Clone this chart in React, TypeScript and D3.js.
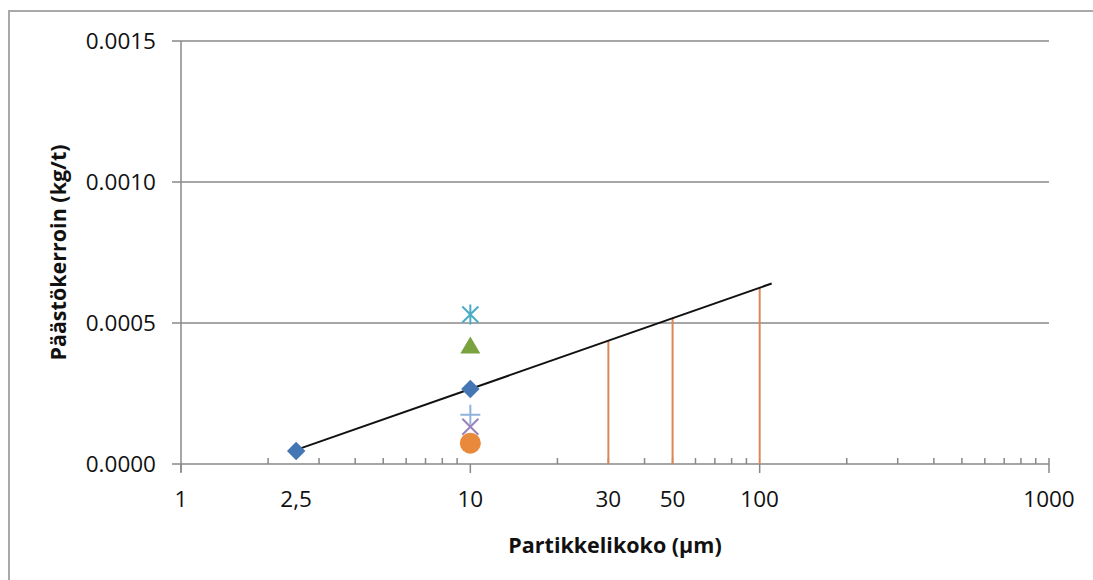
import React, { useEffect, useRef } from "react";
import * as d3 from "d3";

// x ticks (particle size, µm) and their printed labels
const xTickValues = [1, 2.5, 10, 30, 50, 100, 1000];
const xTickLabels = ["1", "2,5", "10", "30", "50", "100", "1000"];
const yTickValues = [0, 0.0005, 0.001, 0.0015];

// measured emission factors (kg/t)
const diamondX = [2.5, 10];
const diamondY = [0.000046, 0.000266];
const asteriskX = [10];
const asteriskY = [0.00053];
const triangleX = [10];
const triangleY = [0.00042];
const plusX = [10];
const plusY = [0.000175];
const crossX = [10];
const crossY = [0.000132];
const circleX = [10];
const circleY = [0.000074];

// trend line endpoints and read-off values
const trendX = [2.5, 110];
const trendY = [0.00005, 0.00064];
const dropX = [30, 50, 100];
const dropY = [0.000437, 0.000517, 0.000625];

const W = 1093;
const H = 580;
const font = "'Open Sans', 'Liberation Sans', sans-serif";

export default function App() {
  const ref = useRef<SVGSVGElement>(null);

  useEffect(() => {
    document.body.style.margin = "0";
    const svg = d3.select(ref.current);
    svg.selectAll("*").remove();

    const dims = { left: 181, right: 1049, top: 41, bottom: 464 };

    const x = d3.scaleLog().domain([1, 1000]).range([dims.left, dims.right]);
    const y = d3.scaleLinear().domain([0, 0.0015]).range([dims.bottom, dims.top]);

    svg.append("rect").attr("width", W).attr("height", H).attr("fill", "#fff");

    // outer chart border
    svg.append("rect")
      .attr("x", 9).attr("y", 11)
      .attr("width", W + 20).attr("height", H + 20)
      .attr("fill", "none").attr("stroke", "#a9a9a9").attr("stroke-width", 2);

    // gridlines
    svg.append("g").selectAll("line")
      .data(yTickValues.filter(d => d > 0))
      .join("line")
      .attr("x1", dims.left).attr("x2", dims.right)
      .attr("y1", d => y(d)).attr("y2", d => y(d))
      .attr("stroke", "#888").attr("stroke-width", 1.5);

    // y axis
    const yAxis = svg.append("g");
    yAxis.append("line")
      .attr("x1", dims.left).attr("x2", dims.left)
      .attr("y1", dims.top).attr("y2", dims.bottom + 8)
      .attr("stroke", "#888").attr("stroke-width", 1.5);
    yAxis.selectAll("line.t")
      .data(yTickValues).join("line").attr("class", "t")
      .attr("x1", dims.left - 9).attr("x2", dims.left)
      .attr("y1", d => y(d)).attr("y2", d => y(d))
      .attr("stroke", "#888").attr("stroke-width", 1.5);
    yAxis.selectAll("text")
      .data(yTickValues).join("text")
      .attr("x", 156).attr("y", d => y(d)).attr("dy", "0.36em")
      .attr("text-anchor", "end")
      .attr("font-family", font).attr("font-size", 22.5).attr("fill", "#111")
      .text(d => d3.format(".4f")(d));

    // x axis
    const xAxis = svg.append("g");
    xAxis.append("line")
      .attr("x1", dims.left).attr("x2", dims.right)
      .attr("y1", dims.bottom).attr("y2", dims.bottom)
      .attr("stroke", "#888").attr("stroke-width", 1.5);
    const majors = [1, 10, 100, 1000];
    xAxis.selectAll("line.maj")
      .data(majors).join("line").attr("class", "maj")
      .attr("x1", d => x(d)).attr("x2", d => x(d))
      .attr("y1", d => (d === 1000 ? dims.bottom - 6 : dims.bottom))
      .attr("y2", dims.bottom + 9)
      .attr("stroke", "#888").attr("stroke-width", 1.5);
    const minors = x.ticks().filter(d => !majors.includes(d));
    xAxis.selectAll("line.min")
      .data(minors).join("line").attr("class", "min")
      .attr("x1", d => x(d)).attr("x2", d => x(d))
      .attr("y1", dims.bottom - 6).attr("y2", dims.bottom)
      .attr("stroke", "#888").attr("stroke-width", 1.5);
    xAxis.selectAll("text")
      .data(xTickValues).join("text")
      .attr("x", d => x(d)).attr("y", 507)
      .attr("text-anchor", "middle")
      .attr("font-family", font).attr("font-size", 22.5).attr("fill", "#111")
      .text((d, i) => xTickLabels[i]);

    // axis titles
    svg.append("text")
      .attr("x", (dims.left + dims.right) / 2).attr("y", 553)
      .attr("text-anchor", "middle")
      .attr("font-family", font).attr("font-size", 21.5).attr("font-weight", "bold")
      .attr("fill", "#111")
      .text("Partikkelikoko (µm)");
    svg.append("text")
      .attr("transform", `translate(66, ${(dims.top + dims.bottom) / 2}) rotate(-90)`)
      .attr("text-anchor", "middle")
      .attr("font-family", font).attr("font-size", 21.5).attr("font-weight", "bold")
      .attr("fill", "#111")
      .text("Päästökerroin (kg/t)");

    // drop lines
    svg.append("g").selectAll("line")
      .data(dropX).join("line")
      .attr("x1", d => x(d)).attr("x2", d => x(d))
      .attr("y1", dims.bottom).attr("y2", (d, i) => y(dropY[i]))
      .attr("stroke", "#d9875a").attr("stroke-width", 2);

    // trend line
    const line = d3.line<number>()
      .x(d => x(d))
      .y((d, i) => y(trendY[i]));
    svg.append("path")
      .attr("d", line(trendX))
      .attr("fill", "none").attr("stroke", "#111").attr("stroke-width", 2);

    const pts = (xs: number[], ys: number[]) => xs.map((v, i) => [x(v), y(ys[i])]);

    // diamonds
    svg.append("g").selectAll("path")
      .data(pts(diamondX, diamondY)).join("path")
      .attr("transform", d => `translate(${d[0]},${d[1]}) rotate(45)`)
      .attr("d", d3.symbol(d3.symbolSquare, 170)())
      .attr("fill", "#4576b4");

    // triangle
    svg.append("g").selectAll("path")
      .data(pts(triangleX, triangleY)).join("path")
      .attr("d", d => `M${d[0]},${d[1] - 9}L${d[0] + 10},${d[1] + 8}L${d[0] - 10},${d[1] + 8}Z`)
      .attr("fill", "#7aa23e");

    // asterisk
    svg.append("g").selectAll("path")
      .data(pts(asteriskX, asteriskY)).join("path")
      .attr("d", d => `M${d[0]},${d[1] - 10}V${d[1] + 10}M${d[0] - 8},${d[1] - 8}L${d[0] + 8},${d[1] + 8}M${d[0] + 8},${d[1] - 8}L${d[0] - 8},${d[1] + 8}`)
      .attr("stroke", "#4bacc6").attr("stroke-width", 2).attr("fill", "none");

    // plus
    svg.append("g").selectAll("path")
      .data(pts(plusX, plusY)).join("path")
      .attr("d", d => `M${d[0]},${d[1] - 10}V${d[1] + 10}M${d[0] - 10},${d[1]}H${d[0] + 10}`)
      .attr("stroke", "#8fb2dc").attr("stroke-width", 2).attr("fill", "none");

    // cross
    svg.append("g").selectAll("path")
      .data(pts(crossX, crossY)).join("path")
      .attr("d", d => `M${d[0] - 8},${d[1] - 8}L${d[0] + 8},${d[1] + 8}M${d[0] + 8},${d[1] - 8}L${d[0] - 8},${d[1] + 8}`)
      .attr("stroke", "#9a82bb").attr("stroke-width", 2).attr("fill", "none");

    // circle
    svg.append("g").selectAll("circle")
      .data(pts(circleX, circleY)).join("circle")
      .attr("cx", d => d[0]).attr("cy", d => d[1]).attr("r", 10.5)
      .attr("fill", "#e8893c");
  }, []);

  return <svg ref={ref} width={W} height={H} style={{ display: "block" }} />;
}
